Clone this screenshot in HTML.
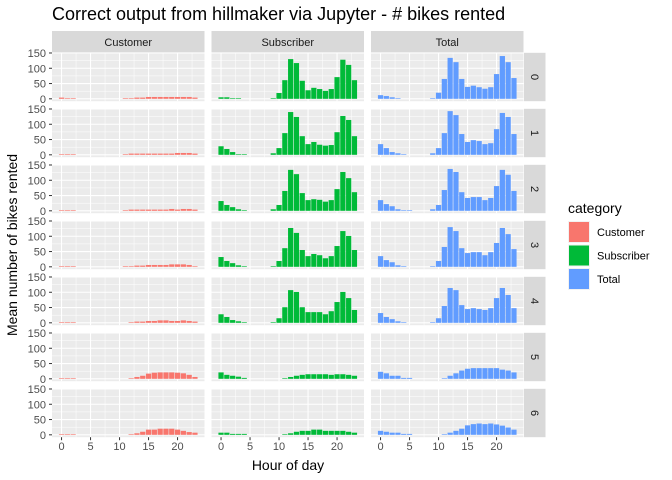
<!DOCTYPE html>
<html><head><meta charset="utf-8">
<style>
body{margin:0;background:#fff;}
svg{display:block;font-family:"Liberation Sans",sans-serif;}
</style></head>
<body>
<svg id="chart" width="672" height="480" viewBox="0 0 672 480"></svg>
<script>
const categories = ["Customer","Subscriber","Total"];
const days = ["0","1","2","3","4","5","6"];
const colors = ["#F8766D","#00BA38","#619CFF"];
const yTicks = [0,50,100,150];
const xTicks = [0,5,10,15,20];
const N = null;
// Customer per day (hours 0..23)
const cust0 = [4,2,2,N,N,N,N,N,N,N,N,2,2,4,4,6,6,6,6,6,6,6,6,4];
const cust1 = [2,2,2,N,N,N,N,N,N,N,N,2,4,4,4,4,4,4,4,4,6,6,6,4];
const cust2 = [2,2,2,N,N,N,N,N,N,N,N,2,4,4,4,4,4,4,4,6,4,6,6,4];
const cust3 = [2,2,2,N,N,N,N,N,N,N,N,2,2,4,4,6,6,6,6,8,8,8,6,2];
const cust4 = [2,2,2,N,N,N,N,N,N,N,N,N,2,4,4,6,6,8,8,6,6,8,6,4];
const cust5 = [2,2,2,N,N,N,N,N,N,N,N,N,2,6,10,17,20,21,21,21,20,18,13,6];
const cust6 = [2,2,2,N,N,N,N,N,N,N,N,N,2,5,10,17,17,20,20,20,17,13,9,7];
// Subscriber
const sub0 = [5,5,2,2,N,N,N,N,N,2,19,61,130,117,59,28,36,32,26,32,71,128,111,61];
const sub1 = [28,19,9,2,2,N,N,N,N,5,22,71,140,124,61,35,42,33,30,32,74,127,114,61];
const sub2 = [32,19,12,5,2,N,N,N,N,5,19,65,134,120,58,35,38,36,30,35,71,127,107,61];
const sub3 = [32,19,12,5,2,N,N,N,N,2,19,61,127,111,55,35,42,38,28,35,68,117,101,55];
const sub4 = [28,19,9,5,2,N,N,N,N,2,15,51,107,101,51,35,35,35,28,38,68,101,81,42];
const sub5 = [21,13,10,7,3,N,N,N,N,N,N,2,6,10,13,15,15,15,15,13,15,15,13,10];
const sub6 = [7,7,3,3,3,N,N,N,N,N,N,2,5,10,13,13,17,17,13,13,13,13,10,7];
// Total
const tot0 = [12,9,5,2,N,N,N,N,N,2,20,65,134,120,65,39,43,38,33,38,81,140,120,68];
const tot1 = [35,22,9,5,2,N,N,N,N,5,22,71,143,130,68,42,48,45,35,38,84,137,124,68];
const tot2 = [35,22,15,5,2,2,N,N,N,5,19,68,137,127,61,42,45,45,35,42,81,134,118,65];
const tot3 = [35,22,15,5,2,N,N,N,N,2,19,65,130,117,61,45,48,48,38,48,78,127,107,58];
const tot4 = [32,19,12,5,2,N,N,N,N,2,15,55,114,107,58,45,48,45,42,48,81,114,91,48];
const tot5 = [23,18,10,10,3,3,N,N,N,N,N,2,10,18,27,33,35,35,35,35,35,30,27,21];
const tot6 = [13,10,7,7,3,3,N,N,N,N,N,2,7,13,20,31,35,37,35,37,34,30,24,17];
const series = [
  [cust0,cust1,cust2,cust3,cust4,cust5,cust6],
  [sub0,sub1,sub2,sub3,sub4,sub5,sub6],
  [tot0,tot1,tot2,tot3,tot4,tot5,tot6]
];

const NS = "http://www.w3.org/2000/svg";
const svg = document.getElementById("chart");
function mk(tag, attrs, parent, text){
  const e = document.createElementNS(NS, tag);
  for (const k in attrs) e.setAttribute(k, attrs[k]);
  if (text !== undefined) e.textContent = text;
  (parent||svg).appendChild(e);
  return e;
}
const colX0 = 52, colPitch = 159.5, panelW = 152.5;
const rowY0 = 52.8, rowPitch = 56, panelH = 48.4;
const xMin = -1.645, xMax = 24.645;
const yMin = -7.8, yMax = 150.0 + 0.6;
function xs(c, v){ return colX0 + c*colPitch + (v - xMin)/(xMax - xMin)*panelW; }
function ys(r, v){ return rowY0 + r*rowPitch + panelH - (v - yMin)/(yMax - yMin)*panelH; }

// title
let t = mk("text",{x:52,y:20,"font-size":"18","fill":"#000"},svg,"Correct output from hillmaker via Jupyter - # bikes rented");



// column strips
categories.forEach((cat,c)=>{
  const g = mk("g",{});
  
  
  mk("rect",{x:colX0+c*colPitch,y:31,width:panelW,height:21.5,fill:"#D9D9D9"},g);
  mk("text",{x:colX0+c*colPitch+panelW/2,y:46,"font-size":"11","fill":"#1A1A1A","text-anchor":"middle"},g,cat);
});

days.forEach((d,r)=>{
  const top = rowY0 + r*rowPitch;
  // row strip
  const g = mk("g",{});
  
  
  mk("rect",{x:524,y:top,width:21.5,height:panelH,fill:"#D9D9D9"},g);
  mk("text",{x:0,y:0,"font-size":"11","fill":"#1A1A1A","text-anchor":"middle",transform:`translate(531,${top+panelH/2}) rotate(90)`},g,d);
  // y ticks
  const ya = mk("g",{});
  
  
  yTicks.forEach(v=>{
    mk("line",{x1:49,x2:52,y1:ys(r,v),y2:ys(r,v),stroke:"#333",'stroke-width':1},ya);
    mk("text",{x:46,y:ys(r,v)+4,"font-size":"11","fill":"#4D4D4D","text-anchor":"end"},ya,String(v));
  });
  categories.forEach((cat,c)=>{
    const pg = mk("g",{});
    
    
    const left = colX0 + c*colPitch;
    mk("rect",{x:left,y:top,width:panelW,height:panelH,fill:"#EBEBEB"},pg);
    // minor grid
    for (let v=25; v<150; v+=50) mk("line",{x1:left,x2:left+panelW,y1:ys(r,v),y2:ys(r,v),stroke:"#fff","stroke-width":0.5},pg);
    for (let v=-2.5; v<=22.5; v+=5) if (v> xMin) mk("line",{x1:xs(c,v),x2:xs(c,v),y1:top,y2:top+panelH,stroke:"#fff","stroke-width":0.5},pg);
    yTicks.forEach(v=>mk("line",{x1:left,x2:left+panelW,y1:ys(r,v),y2:ys(r,v),stroke:"#fff","stroke-width":1.1},pg));
    xTicks.forEach(v=>mk("line",{x1:xs(c,v),x2:xs(c,v),y1:top,y2:top+panelH,stroke:"#fff","stroke-width":1.1},pg));
    const vals = series[c][r];
    vals.forEach((v,h)=>{
      if (v === null) return;
      const b = mk("rect",{x:xs(c,h-0.45),y:ys(r,v),width:xs(c,h+0.45)-xs(c,h-0.45),height:ys(r,0)-ys(r,v),fill:colors[c]},pg);
      
      
    });
  });
});

// x axes
categories.forEach((cat,c)=>{
  const g = mk("g",{});
  
  
  const bot = rowY0 + 6*rowPitch + panelH;
  xTicks.forEach(v=>{
    mk("line",{x1:xs(c,v),x2:xs(c,v),y1:bot,y2:bot+3,stroke:"#333"},g);
    mk("text",{x:xs(c,v),y:bot+13,"font-size":"11","fill":"#4D4D4D","text-anchor":"middle"},g,String(v));
  });
});
t = mk("text",{x:288,y:470,"font-size":"14","fill":"#000","text-anchor":"middle"},svg,"Hour of day");


t = mk("text",{x:0,y:0,"font-size":"14","fill":"#000","text-anchor":"middle",transform:"translate(17,245) rotate(-90)"},svg,"Mean number of bikes rented");



// legend
const lg = mk("g",{});


mk("text",{x:568,y:213,"font-size":"14","fill":"#000"},lg,"category");
categories.forEach((cat,i)=>{
  const e = mk("g",{},lg);
  
  
  mk("rect",{x:568,y:221+i*23.5,width:22,height:22,fill:"#F2F2F2"},e);
  mk("rect",{x:569,y:222+i*23.5,width:20,height:20,fill:colors[i]},e);
  mk("text",{x:597,y:236+i*23.5,"font-size":"11","fill":"#000"},e,cat);
});
</script>
</body></html>
